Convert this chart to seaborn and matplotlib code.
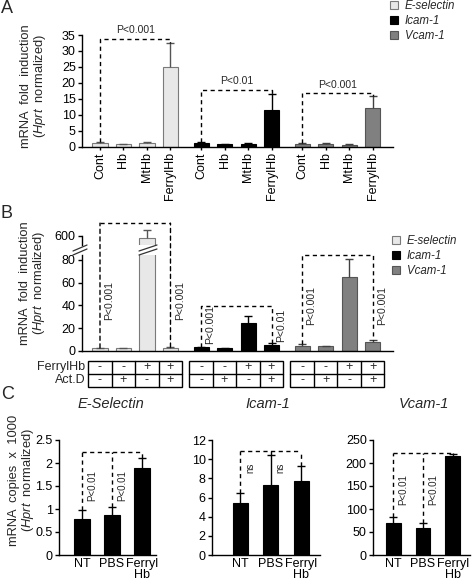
import numpy as np
import matplotlib
matplotlib.use("Agg")
import matplotlib.pyplot as plt
from matplotlib.patches import Patch, Rectangle, ConnectionPatch
from matplotlib.lines import Line2D
import seaborn as sns

# ---------------- data ----------------
genes = ["E-selectin", "Icam-1", "Vcam-1"]
treat_a = ["Cont", "Hb", "MtHb", "FerrylHb"]

a_esel = [1.1, 0.8, 1.1, 25.1]
a_esel_err = [0.3, 0.2, 0.3, 7.5]
a_icam = [1.2, 0.7, 0.9, 11.5]
a_icam_err = [0.2, 0.3, 0.3, 4.9]
a_vcam = [0.9, 1.0, 0.6, 12.2]
a_vcam_err = [0.2, 0.2, 0.2, 3.6]
a_bracket = [33.8, 17.8, 16.7]
a_pvals = ["P<0.001", "P<0.01", "P<0.001"]

b_esel = [2.0, 2.0, 577.0, 2.5]
b_esel_err = [0.4, 0.3, 71.0, 0.6]
b_icam = [3.0, 2.0, 24.0, 5.0]
b_icam_err = [0.6, 0.4, 7.0, 1.8]
b_vcam = [4.4, 4.0, 65.0, 7.4]
b_vcam_err = [1.8, 0.5, 15.6, 2.4]
b_bracket = [704.0, 39.0, 84.0]
b_pvals_left = ["P<0.001", "P<0.001", "P<0.001"]
b_pvals_right = ["P<0.001", "P<0.01", "P<0.001"]
b_ptext_y = [44.7, 22.7, 40.0]
ferryl_flags = ["-", "-", "+", "+"]
actd_flags = ["-", "+", "-", "+"]

treat_c = ["NT", "PBS", "Ferryl\nHb"]
c_titles = ["E-Selectin", "Icam-1", "Vcam-1"]
c_esel = [0.78, 0.88, 1.89]
c_esel_err = [0.20, 0.17, 0.22]
c_icam = [5.4, 7.3, 7.7]
c_icam_err = [1.1, 3.1, 1.6]
c_vcam = [70.0, 59.0, 216.0]
c_vcam_err = [12.0, 10.0, 3.0]
c_bracket = [2.25, 10.9, 222.0]
c_pvals = ["P<0.01", "ns", "P<0.01"]
c_ptext_y = [1.5, 9.1, 143.0]
c_ymax = [2.5, 12, 250]
c_ystep = [0.5, 2, 50]
c_yticklabels = [["0", "0.5", "1", "1.5", "2", "2.5"],
                 ["0", "2", "4", "6", "8", "10", "12"],
                 ["0", "50", "100", "150", "200", "250"]]

# ---------------- style ----------------
sns.set_style("ticks")
plt.rcParams["font.family"] = ["Liberation Sans", "DejaVu Sans"]
plt.rcParams["mathtext.fontset"] = "custom"
plt.rcParams["mathtext.it"] = "Liberation Sans:italic"
plt.rcParams["mathtext.rm"] = "Liberation Sans"
plt.rcParams["axes.linewidth"] = 1.0

fills = {"E-selectin": "#e8e8e8", "Icam-1": "#000000", "Vcam-1": "#808080"}
edges = {"E-selectin": "#7a7a7a", "Icam-1": "#000000", "Vcam-1": "#555555"}
errc = {"E-selectin": "#555555", "Icam-1": "#000000", "Vcam-1": "#404040"}
DASH = (0, (3, 2.5))
TICK_FS = 9
P_FS = 7
LBL_FS = 9.3

W, H = 477.0, 582.0
fig = plt.figure(figsize=(W / 100, H / 100), dpi=100)


def add_ax(x0, y0, x1, y1):
    return fig.add_axes([x0 / W, 1 - y1 / H, (x1 - x0) / W, (y1 - y0) / H])


def style(ax):
    sns.despine(ax=ax)
    ax.tick_params(axis="both", direction="out", length=3, width=1,
                   labelsize=TICK_FS, pad=1.5, colors="black")
    for s in ("left", "bottom"):
        ax.spines[s].set_color("black")
        ax.spines[s].set_linewidth(1.0)


def errbars(ax, x, vals, errs, color, clip=True):
    eb = ax.errorbar(x, vals, yerr=[np.zeros(len(vals)), errs], fmt="none",
                     ecolor=color, elinewidth=1, capsize=2.6, capthick=1)
    eb[1][0].set_visible(False)
    if not clip:
        for c in eb[1]:
            c.set_clip_on(False)
        for c in eb[2]:
            c.set_clip_on(False)


STEP = 4.3
XL = (-0.766, 12.47)


def gpos(g):
    return [g * STEP + i for i in range(4)]


def bars(ax, x, vals, gene, width=0.64):
    sns.barplot(x=x, y=vals, native_scale=True, orient="x", width=width,
                color=fills[gene], saturation=1, edgecolor=edges[gene],
                linewidth=0.8, errorbar=None, ax=ax)


def vtext(ax, x, y, s, dx=3, fs=P_FS):
    ax.annotate(s, (x, y), xytext=(dx, 0), textcoords="offset points",
                rotation=90, ha="left", va="center", fontsize=fs,
                annotation_clip=False)


def legend_at(x, y):
    handles = [Patch(facecolor=fills[g], edgecolor=edges[g], linewidth=0.8, label=g)
               for g in genes]
    fig.legend(handles=handles, loc="upper left", bbox_to_anchor=(x / W, 1 - y / H),
               frameon=False, borderpad=0, borderaxespad=0, handlelength=0.7,
               handleheight=0.7, handletextpad=0.6, labelspacing=0.28,
               prop={"style": "italic", "size": 8.3})


def ylabel2(x1, x2, yc, l1, fs):
    fig.text(x1 / W, 1 - yc / H, l1, rotation=90, ha="center", va="center", fontsize=fs)
    fig.text(x2 / W, 1 - yc / H, "($\\mathit{Hprt}$  normalized)", rotation=90,
             ha="center", va="center", fontsize=fs)


# ================= Panel A =================
axA = add_ax(82, 35, 393, 146.7)
a_sets = [(a_esel, a_esel_err), (a_icam, a_icam_err), (a_vcam, a_vcam_err)]
for g, (gene, (vals, errs)) in enumerate(zip(genes, a_sets)):
    x = gpos(g)
    bars(axA, x, vals, gene)
    errbars(axA, x, vals, errs, errc[gene])
    by = a_bracket[g]
    axA.plot([x[0], x[0], x[3], x[3]],
             [vals[0] + errs[0], by, by, vals[3] + errs[3]],
             ls=DASH, color="black", lw=1, clip_on=False)
    axA.annotate(a_pvals[g], ((x[0] + x[3]) / 2, by), xytext=(0, 2.5),
                 textcoords="offset points", ha="center", va="bottom",
                 fontsize=P_FS + 0.5, annotation_clip=False)
axA.set_xlim(*XL)
axA.set_ylim(0, 35)
axA.set_yticks(np.arange(0, 36, 5))
axA.set_xticks([p for g in range(3) for p in gpos(g)])
axA.set_xticklabels(treat_a * 3, rotation=90)
axA.set_xlabel("")
axA.set_ylabel("")
style(axA)
axA.tick_params(axis="x", length=2.5)

ylabel2(26, 40, 86, "mRNA  fold  induction", LBL_FS)
legend_at(390, 0)

# ================= Panel B =================
axB = add_ax(82, 255, 393, 350.7)
axT = add_ax(82, 235.5, 393, 245)
B_LO = (0, 84.4)
T_LO = (520, 600)
b_sets = [(b_esel, b_esel_err), (b_icam, b_icam_err), (b_vcam, b_vcam_err)]
for g, (gene, (vals, errs)) in enumerate(zip(genes, b_sets)):
    x = gpos(g)
    bars(axB, x, vals, gene)
    errbars(axB, x, vals, errs, errc[gene])
    bars(axT, x, vals, gene)
    big = [i for i, v in enumerate(vals) if v > T_LO[0]]
    if big:
        errbars(axT, [x[i] for i in big], [vals[i] for i in big],
                [errs[i] for i in big], errc[gene], clip=False)

for ax in (axB, axT):
    ax.set_xlim(*XL)
    ax.set_xlabel("")
    ax.set_ylabel("")
axB.set_ylim(*B_LO)
axB.set_yticks([0, 20, 40, 60, 80])
axB.set_xticks([])
style(axB)
axT.set_ylim(*T_LO)
axT.set_yticks([600])
axT.set_xticks([])
style(axT)
axT.spines["bottom"].set_visible(False)

# brackets in B
for g, (vals, errs) in enumerate(b_sets):
    x = gpos(g)
    by = b_bracket[g]
    if g == 0:
        axT.plot([x[0], x[3]], [by, by], ls=DASH, color="black", lw=1, clip_on=False)
        for i in (0, 3):
            cp = ConnectionPatch(xyA=(x[i], vals[i] + errs[i]), coordsA=axB.transData,
                                 xyB=(x[i], by), coordsB=axT.transData,
                                 linestyle=DASH, color="black", lw=1, arrowstyle="-")
            fig.add_artist(cp)
    else:
        axB.plot([x[0], x[0], x[3], x[3]],
                 [vals[0] + errs[0], by, by, vals[3] + errs[3]],
                 ls=DASH, color="black", lw=1, clip_on=False)
    vtext(axB, x[0], b_ptext_y[g], b_pvals_left[g], fs=7.5)
    vtext(axB, x[3], b_ptext_y[g], b_pvals_right[g], fs=7.5)

# break marks
for (xa, xb) in [(73, 87), (139, 157)]:
    for dy in (0, 4):
        fig.add_artist(Line2D([xa / W, xb / W],
                              [1 - (251 + dy) / H, 1 - (245 + dy) / H],
                              transform=fig.transFigure, color="#333333", lw=0.9))

ylabel2(25, 39, 283, "mRNA  fold  induction", LBL_FS)
legend_at(392, 235)

# table under B
axTab = add_ax(82, 360.7, 393, 386.7)
axTab.set_xlim(*XL)
axTab.set_ylim(0, 2)
axTab.axis("off")
for g in range(3):
    x = gpos(g)
    x0 = x[0] - 0.5
    axTab.add_patch(Rectangle((x0, 0), 4, 2, fill=False, lw=1, ec="black", clip_on=False))
    axTab.plot([x0, x0 + 4], [1, 1], color="black", lw=1, clip_on=False)
    for k in (1, 2, 3):
        axTab.plot([x0 + k, x0 + k], [0, 2], color="black", lw=1, clip_on=False)
    for i in range(4):
        axTab.text(x[i], 1.5, ferryl_flags[i], ha="center", va="center", fontsize=TICK_FS)
        axTab.text(x[i], 0.5, actd_flags[i], ha="center", va="center", fontsize=TICK_FS)
axTab.text(-0.62, 1.5, "FerrylHb", ha="right", va="center", fontsize=TICK_FS)
axTab.text(-0.62, 0.5, "Act.D", ha="right", va="center", fontsize=TICK_FS)

# ================= Panel C =================
c_sets = [(c_esel, c_esel_err), (c_icam, c_icam_err), (c_vcam, c_vcam_err)]
c_boxes = [(59, 156), (212, 320), (373, 470)]
c_xlims = [(-0.77, 2.47), (-0.92, 2.62), (-0.67, 2.57)]
c_widths = [0.53, 0.49, 0.5]
c_title_x = [111, 268, 424]
for k, (vals, errs) in enumerate(c_sets):
    ax = add_ax(c_boxes[k][0], 440, c_boxes[k][1], 555)
    sns.barplot(x=treat_c, y=vals, color="black", saturation=1, width=c_widths[k],
                edgecolor="black", linewidth=0.8, errorbar=None, ax=ax)
    xs = np.arange(len(vals))
    errbars(ax, xs, vals, errs, "black")
    by = c_bracket[k]
    ax.plot([0, 2], [by, by], ls=DASH, color="black", lw=1, clip_on=False)
    for i in range(3):
        ax.plot([i, i], [vals[i] + errs[i], by], ls=DASH, color="black", lw=1, clip_on=False)
    vtext(ax, 0, c_ptext_y[k], c_pvals[k], dx=3.5)
    vtext(ax, 1, c_ptext_y[k], c_pvals[k], dx=3.5)
    ax.set_xlim(*c_xlims[k])
    ax.set_ylim(0, c_ymax[k])
    ax.set_yticks(np.arange(0, c_ymax[k] + 1e-9, c_ystep[k]))
    ax.set_yticklabels(c_yticklabels[k])
    ax.set_xlabel("")
    ax.set_ylabel("")
    style(ax)
    ax.tick_params(axis="x", length=0, labelsize=9, pad=2)
    ax.tick_params(axis="y", labelsize=9)
    for t in ax.get_xticklabels():
        t.set_linespacing(0.95)
    fig.text(c_title_x[k] / W, 1 - 404 / H, c_titles[k], ha="center", va="center",
             fontsize=10.5, style="italic")

ylabel2(14, 28, 480, "mRNA  copies  x  1000", LBL_FS)

# panel letters
fig.text(1 / W, 1 - 0 / H, "A", ha="left", va="top", fontsize=13)
fig.text(1 / W, 1 - 205 / H, "B", ha="left", va="top", fontsize=13)
fig.text(1 / W, 1 - 386 / H, "C", ha="left", va="top", fontsize=13)

fig.savefig("out.png", dpi=100)
